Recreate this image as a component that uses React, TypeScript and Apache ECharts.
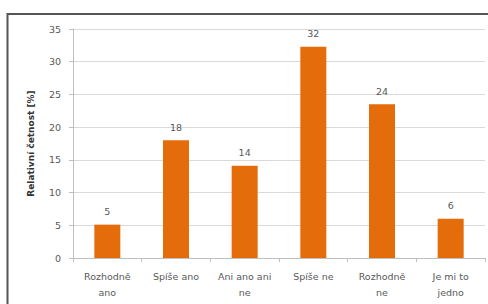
import React, { useEffect, useRef } from "react";
import * as echarts from "echarts";

const categories = ["Rozhodně\nano", "Spíše ano", "Ani ano ani\nne", "Spíše ne", "Rozhodně\nne", "Je mi to\njedno"];
const values = [5.1, 18.0, 14.1, 32.3, 23.5, 6.0];
const yTicks = { min: 0, max: 35, interval: 5 };

export default function App() {
  const ref = useRef<HTMLDivElement>(null);
  useEffect(() => {
    const chart = echarts.init(ref.current!, null, { renderer: "svg" });
    const font = "'DejaVu Sans', 'Noto Sans', sans-serif";
    chart.setOption({
      animation: false,
      backgroundColor: "#ffffff",
      graphic: [
        {
          type: "rect",
          shape: { x: 7.5, y: 14, width: 500, height: 320 },
          style: { fill: "none", stroke: "#555555", lineWidth: 2 },
          silent: true,
        },
      ],
      grid: { left: 73, right: 3, top: 29, bottom: 46 },
      xAxis: {
        type: "category",
        data: categories,
        axisLine: { lineStyle: { color: "#bfbfbf" } },
        axisTick: { show: true, length: 4, lineStyle: { color: "#bfbfbf" } },
        axisLabel: {
          color: "#595959",
          fontSize: 9.5,
          fontFamily: font,
          lineHeight: 16,
          margin: 10,
          interval: 0,
        },
      },
      yAxis: {
        type: "value",
        min: yTicks.min,
        max: yTicks.max,
        interval: yTicks.interval,
        name: "Relativní četnost [%]",
        nameLocation: "middle",
        nameGap: 38,
        nameTextStyle: { color: "#333333", fontSize: 9, fontWeight: "bold", fontFamily: font },
        axisLine: { show: true, lineStyle: { color: "#bfbfbf" } },
        axisTick: { show: true, length: 4, lineStyle: { color: "#bfbfbf" } },
        axisLabel: { color: "#595959", fontSize: 9.5, fontFamily: font, margin: 12 },
        splitLine: { lineStyle: { color: "#d9d9d9" } },
      },
      series: [
        {
          type: "bar",
          data: values,
          barWidth: 26,
          itemStyle: { color: "#E46C0A" },
          label: {
            show: true,
            position: "top",
            distance: 8,
            color: "#595959",
            fontSize: 9.5,
            fontFamily: font,
            formatter: (p: any) => String(Math.round(p.value)),
          },
        },
      ],
    });
    return () => chart.dispose();
  }, []);
  return <div ref={ref} style={{ position: "absolute", left: 0, top: 0, width: 488, height: 304 }} />;
}
